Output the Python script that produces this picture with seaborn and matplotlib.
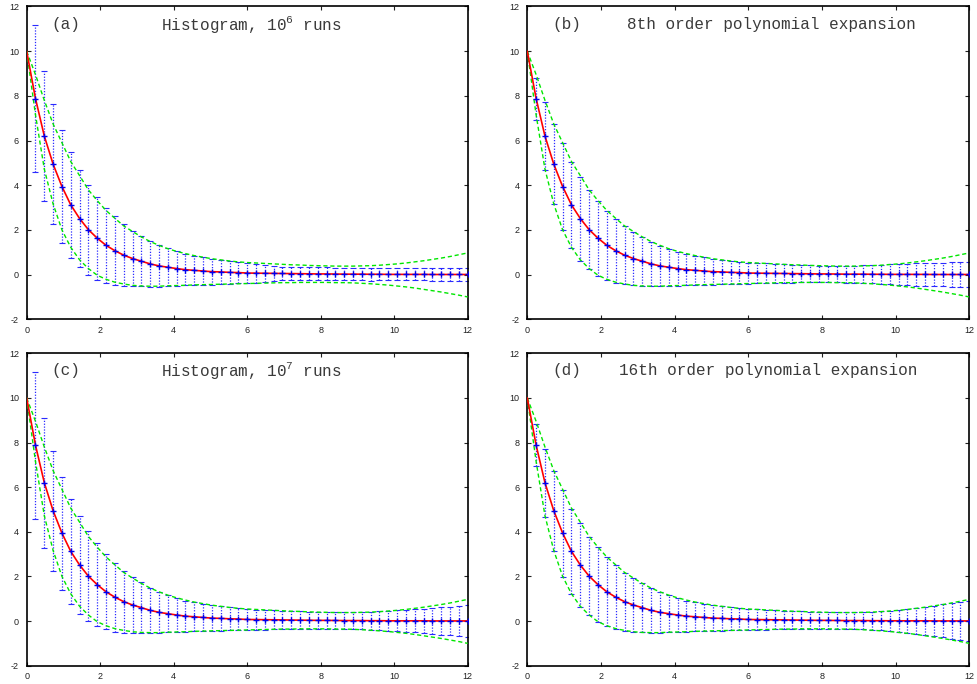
import numpy as np
import seaborn as sns
import matplotlib.pyplot as plt

# sample grid: 51 points, step 0.24, from 0 to 12
x_grid = np.round(np.arange(51) * 0.24, 2)

# mean curve (red line), value at each grid point
mean = [10.0, 7.88, 6.20, 4.94, 3.94, 3.12, 2.51, 2.01, 1.63, 1.31,
        1.07, 0.87, 0.72, 0.60, 0.48, 0.39, 0.33, 0.27, 0.22, 0.19,
        0.16, 0.13, 0.12, 0.10, 0.09, 0.07, 0.065, 0.06, 0.055, 0.05,
        0.045, 0.04, 0.035, 0.03, 0.03, 0.025, 0.02, 0.02, 0.02, 0.015,
        0.015, 0.01, 0.01, 0.01, 0.01, 0.01, 0.005, 0.005, 0.005, 0.005,
        0.005]

# green envelopes
upper = [10.0, 8.95, 7.80, 6.74, 5.90, 5.06, 4.43, 3.79, 3.31, 2.87,
         2.52, 2.18, 1.93, 1.69, 1.48, 1.31, 1.16, 1.04, 0.94, 0.85,
         0.78, 0.71, 0.66, 0.61, 0.57, 0.54, 0.52, 0.50, 0.48, 0.46,
         0.44, 0.43, 0.41, 0.40, 0.39, 0.38, 0.38, 0.38, 0.39, 0.40,
         0.42, 0.45, 0.48, 0.52, 0.57, 0.62, 0.68, 0.74, 0.81, 0.89,
         0.97]
lower = [10.0, 7.15, 4.72, 3.16, 2.00, 1.22, 0.66, 0.27, -0.03, -0.21,
         -0.34, -0.42, -0.48, -0.51, -0.52, -0.52, -0.50, -0.49, -0.48, -0.46,
         -0.45, -0.44, -0.43, -0.42, -0.41, -0.40, -0.39, -0.38, -0.37, -0.36,
         -0.36, -0.35, -0.35, -0.35, -0.35, -0.36, -0.36, -0.37, -0.39, -0.41,
         -0.44, -0.47, -0.51, -0.55, -0.60, -0.66, -0.72, -0.78, -0.85, -0.92,
         -1.00]

# blue error bar half widths, points 1..50
err_a = [3.30, 2.92, 2.69, 2.53, 2.36, 2.18, 2.01, 1.85, 1.68, 1.54,
         1.39, 1.25, 1.13, 1.02, 0.93, 0.84, 0.77, 0.70, 0.65, 0.62,
         0.58, 0.55, 0.50, 0.47, 0.45, 0.42, 0.38, 0.33, 0.31, 0.30,
         0.30, 0.29, 0.29, 0.29, 0.28, 0.28, 0.28, 0.28, 0.28, 0.27,
         0.27, 0.27, 0.27, 0.27, 0.27, 0.27, 0.27, 0.27, 0.27, 0.27]
err_b = [0.94, 1.52, 1.79, 1.95, 1.92, 1.88, 1.76, 1.67, 1.54, 1.43,
         1.30, 1.20, 1.10, 1.00, 0.91, 0.83, 0.76, 0.70, 0.65, 0.61,
         0.58, 0.55, 0.52, 0.49, 0.47, 0.455, 0.44, 0.425, 0.41, 0.40,
         0.39, 0.38, 0.375, 0.37, 0.37, 0.375, 0.385, 0.395, 0.41, 0.43,
         0.45, 0.47, 0.48, 0.50, 0.51, 0.52, 0.53, 0.54, 0.55, 0.55]
err_c = [3.30, 2.92, 2.69, 2.53, 2.36, 2.18, 2.01, 1.85, 1.68, 1.54,
         1.39, 1.25, 1.13, 1.02, 0.93, 0.84, 0.77, 0.70, 0.65, 0.61,
         0.58, 0.55, 0.52, 0.49, 0.47, 0.45, 0.44, 0.42, 0.41, 0.40,
         0.39, 0.38, 0.37, 0.37, 0.37, 0.37, 0.38, 0.39, 0.40, 0.42,
         0.44, 0.47, 0.49, 0.52, 0.55, 0.58, 0.61, 0.64, 0.68, 0.72]
err_d = [0.94, 1.52, 1.79, 1.95, 1.92, 1.88, 1.76, 1.67, 1.54, 1.43,
         1.30, 1.20, 1.10, 1.00, 0.91, 0.83, 0.76, 0.70, 0.65, 0.61,
         0.58, 0.55, 0.52, 0.49, 0.47, 0.455, 0.44, 0.425, 0.41, 0.40,
         0.39, 0.38, 0.375, 0.37, 0.37, 0.375, 0.385, 0.395, 0.41, 0.435,
         0.46, 0.49, 0.53, 0.58, 0.63, 0.69, 0.74, 0.79, 0.84, 0.89]

tags = ['(a)', '(b)', '(c)', '(d)']
titles = [r'Histogram, 10$^{\mathrm{6}}$ runs',
          '8th order polynomial expansion',
          r'Histogram, 10$^{\mathrm{7}}$ runs',
          '16th order polynomial expansion']
title_x = [0.304, 0.225, 0.304, 0.208]
errs = [err_a, err_b, err_c, err_d]

xticks = [0, 2, 4, 6, 8, 10, 12]
yticks = [-2, 0, 2, 4, 6, 8, 10, 12]

sns.set_style('ticks')
plt.rcParams['font.family'] = ['Liberation Sans', 'DejaVu Sans']
plt.rcParams['axes.unicode_minus'] = False
plt.rcParams['mathtext.fontset'] = 'custom'
plt.rcParams['mathtext.rm'] = 'Liberation Mono'
plt.rcParams['mathtext.it'] = 'Liberation Mono'


def draw_panel(ax, tag, title, tx, err):
    eb = ax.errorbar(x_grid[1:], mean[1:], yerr=err, fmt='none',
                     ecolor='#2a2aff', elinewidth=0.9, capsize=2.0,
                     capthick=0.8, zorder=2)
    eb[2][0].set_linestyle((0, (1, 1.3)))
    sns.lineplot(x=x_grid, y=upper, ax=ax, color='#00e600', lw=1.0,
                 linestyle=(0, (3, 2)), estimator=None, errorbar=None, zorder=3)
    sns.lineplot(x=x_grid, y=lower, ax=ax, color='#00e600', lw=1.0,
                 linestyle=(0, (3, 2)), estimator=None, errorbar=None, zorder=3)
    sns.lineplot(x=x_grid, y=mean, ax=ax, color='#ff0000', lw=1.2,
                 estimator=None, errorbar=None, zorder=4)
    sns.scatterplot(x=x_grid[1:], y=mean[1:], ax=ax, marker='+',
                    color='#0000ee', s=18, linewidth=1.0, zorder=5)

    ax.set_xlim(0, 12)
    ax.set_ylim(-2, 12)
    ax.set_xticks(xticks)
    ax.set_yticks(yticks)
    ax.tick_params(direction='in', top=True, right=True, length=3.2,
                   width=0.8, labelsize=6.5, colors='#222222')
    ax.tick_params(axis='x', pad=4.5)
    ax.tick_params(axis='y', pad=5.5)
    for s in ax.spines.values():
        s.set_linewidth(1.2)
        s.set_color('black')
    ax.set_xlabel('')
    ax.set_ylabel('')
    ax.text(0.057, 0.944, tag, transform=ax.transAxes, ha='left', va='center',
            fontsize=11.5, family='Liberation Mono', color='#3a3a3a')
    ax.text(tx, 0.944, title, transform=ax.transAxes, ha='left', va='center',
            fontsize=11.5, family='Liberation Mono', color='#3a3a3a')


fig = plt.figure(figsize=(9.77, 6.84), dpi=100)
boxes = [[0.0273, 0.5332, 0.4514, 0.4573],
         [0.5397, 0.5332, 0.4524, 0.4573],
         [0.0273, 0.0268, 0.4514, 0.4567],
         [0.5397, 0.0268, 0.4524, 0.4567]]
for box, tag, title, tx, err in zip(boxes, tags, titles, title_x, errs):
    ax = fig.add_axes(box)
    draw_panel(ax, tag, title, tx, err)

fig.savefig('out.png', dpi=100)
